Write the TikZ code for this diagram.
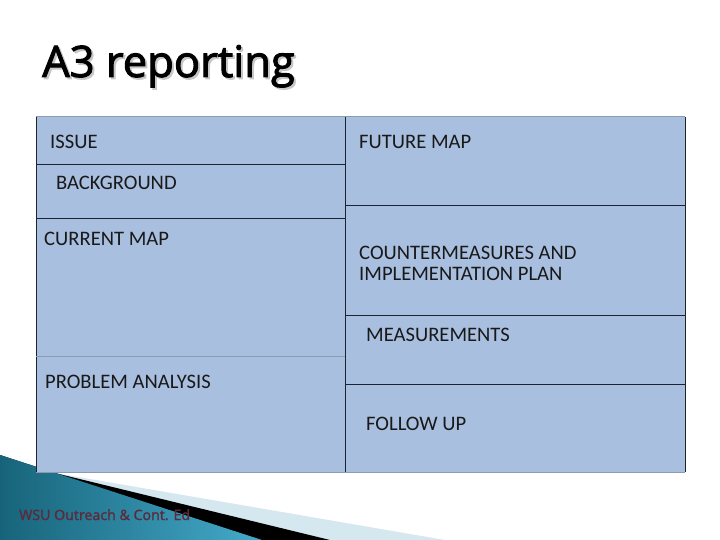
\documentclass[tikz,border=0pt]{standalone}
\usepackage{fontspec}
\setmainfont{Carlito}
\newfontfamily\titlefont[FakeBold=2.2]{Open Sans}
\newfontfamily\footfont[FakeBold=1.6]{Open Sans}
\usepackage{xcolor}
\definecolor{cellblue}{HTML}{A9BFDF}
\definecolor{linedark}{HTML}{1C2333}
\definecolor{linegray}{HTML}{8E9AAE}
\definecolor{swooshdark}{HTML}{17647A}
\definecolor{swooshteal}{HTML}{44AACA}
\definecolor{swooshlight}{HTML}{D6E8EF}
\definecolor{footred}{HTML}{5B2A3C}

\tikzset{
  lbl/.style={anchor=base west, inner sep=0pt, text=black!90, font=\fontsize{20.6}{22}\selectfont},
  sep/.style={line width=1pt, linedark},
  sepgray/.style={line width=1pt, linegray}
}

\begin{document}
\begin{tikzpicture}[x=1pt,y=-1pt]
        \useasboundingbox (0,0) rectangle (720,540);
        % swoosh in the bottom left corner
        \fill[swooshlight] (0,455) -- (55,473) -- (445,540) -- (0,540) -- cycle;
        \fill[black] (0,455) -- (55,473) -- (330,540) -- (0,540) -- cycle;
        \shade[left color=swooshdark, right color=swooshteal] (0,455) -- (262,540) -- (0,540) -- cycle;
        \node[anchor=base west, inner sep=0pt, text=footred, font=\footfont\fontsize{14.2}{14}\selectfont] (footer) at (19,520) {WSU Outreach \& Cont. Ed};
        % title
        \node[anchor=base west, inner sep=0pt, text=black!22, font=\titlefont\fontsize{43.5}{44}\selectfont] (titleshadow) at (44,79) {A3 reporting};
        \node[anchor=base west, inner sep=0pt, font=\titlefont\fontsize{43.5}{44}\selectfont] (title) at (42,77) {A3 reporting};
        % the A3 sheet
        \fill[cellblue] (36,117) rectangle (685,472);
        \draw[sepgray] (36,117) -- (685,117);
        \draw[sepgray] (36,472) -- (685,472);
        \draw[sep] (36,117) -- (36,472);
        \draw[sep] (345,117) -- (345,472);
        \draw[sep] (685,117) -- (685,472);
        \draw[sep] (36,165) -- (345,165);
        \draw[sep] (36,219) -- (345,219);
        \draw[sepgray] (36,356) -- (345,356);
        \draw[sep] (345,206) -- (685,206);
        \draw[sep] (345,315) -- (685,315);
        \draw[sep] (345,384) -- (685,384);
        \node[lbl] (issue) at (50,149) {ISSUE};
        \node[lbl] (background) at (56,190) {BACKGROUND};
        \node[lbl] (currentmap) at (44,245) {CURRENT MAP};
        \node[lbl] (analysis) at (45,388) {PROBLEM ANALYSIS};
        \node[lbl] (futuremap) at (359,149) {FUTURE MAP};
        \node[lbl] (counter) at (359,259) {COUNTERMEASURES AND};
        \node[lbl] (plan) at (359,280) {IMPLEMENTATION PLAN};
        \node[lbl] (measure) at (366,341) {MEASUREMENTS};
        \node[lbl] (followup) at (366,430) {FOLLOW UP};
      \end{tikzpicture}
\end{document}
